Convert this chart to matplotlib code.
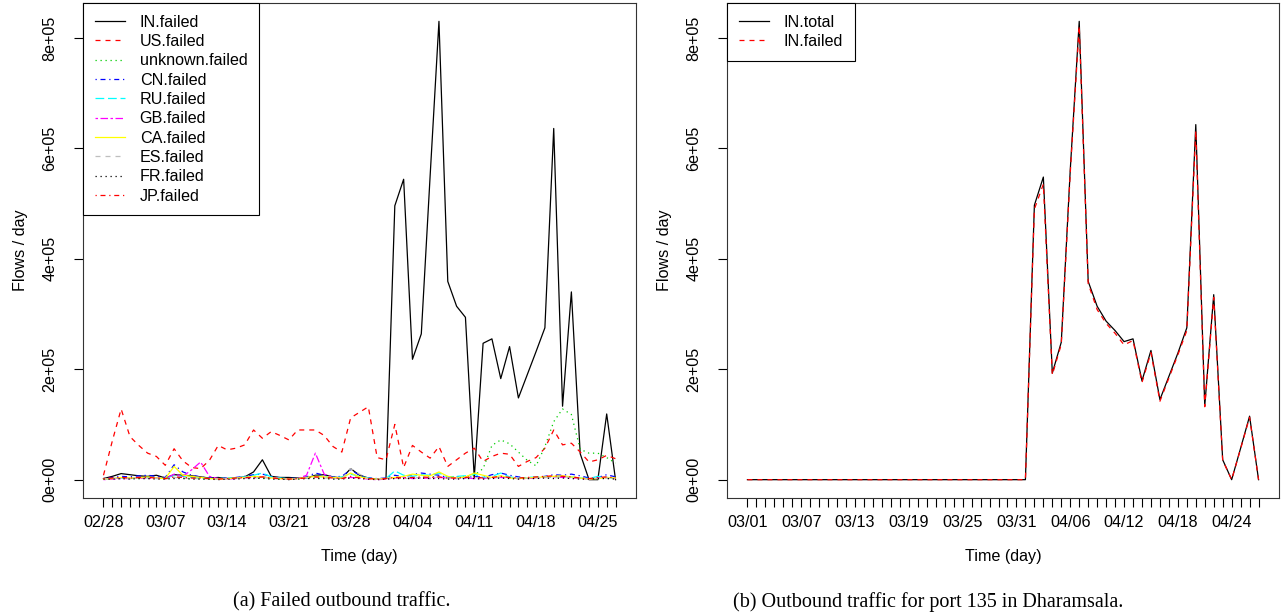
import numpy as np
import pandas as pd
import matplotlib
matplotlib.use('Agg')
import matplotlib.pyplot as plt

plt.rcParams['font.family'] = ['Liberation Sans', 'DejaVu Sans']

# ---- (a) failed outbound flows per day, 02/28 .. 04/27 (thousands) ----
days_a = list(pd.date_range('2011-02-28', '2011-04-27').strftime('%m/%d'))
ticklabels_a = ['02/28', '03/07', '03/14', '03/21', '03/28', '04/04', '04/11', '04/18', '04/25']

IN_failed = [2, 6, 11, 9, 7, 6, 8, 3, 9, 8,
             7, 5, 3, 4, 2, 3, 5, 14, 36, 6,
             4, 4, 3, 3, 8, 9, 5, 3, 20, 8,
             3, 1, 2, 496, 544, 218, 264, 550, 830, 359,
             314, 294, 4, 247, 255, 183, 241, 148, 190, 232,
             275, 636, 133, 340, 47, 0, 0, 119, 0]
US_failed = [8, 70, 128, 78, 62, 48, 42, 26, 56, 34,
             22, 20, 35, 62, 54, 57, 63, 90, 75, 87,
             80, 72, 90, 90, 90, 80, 60, 50, 112, 122,
             132, 40, 36, 100, 22, 62, 50, 39, 60, 24,
             36, 48, 57, 33, 42, 48, 46, 24, 33, 40,
             57, 90, 63, 66, 50, 32, 36, 44, 38]
unknown_failed = [1, 2, 2, 3, 2, 2, 3, 2, 4, 3,
                  2, 2, 1, 1, 2, 2, 3, 3, 2, 2,
                  1, 1, 2, 2, 3, 3, 2, 2, 4, 3,
                  2, 1, 2, 3, 4, 3, 4, 5, 6, 4,
                  5, 6, 8, 20, 62, 72, 65, 50, 35, 25,
                  60, 105, 128, 118, 55, 48, 48, 40, 30]
CN_failed = [2, 4, 6, 5, 7, 8, 6, 4, 27, 14,
             8, 5, 3, 2, 3, 4, 6, 9, 10, 6,
             3, 2, 3, 5, 12, 8, 5, 6, 18, 8,
             3, 2, 3, 8, 5, 9, 12, 10, 8, 4,
             5, 3, 6, 4, 9, 12, 8, 5, 3, 4,
             6, 9, 8, 10, 7, 3, 4, 9, 5]
RU_failed = [1, 2, 3, 2, 3, 4, 3, 2, 8, 6,
             4, 3, 2, 2, 3, 3, 5, 8, 12, 5,
             3, 2, 2, 3, 6, 5, 4, 5, 10, 6,
             3, 1, 2, 16, 8, 6, 9, 8, 12, 5,
             6, 7, 10, 4, 6, 12, 5, 3, 4, 5,
             4, 5, 6, 5, 3, 2, 6, 4, 2]
GB_failed = [0, 1, 2, 2, 3, 2, 3, 2, 10, 6,
             18, 32, 6, 2, 1, 2, 3, 4, 5, 3,
             2, 1, 2, 8, 48, 10, 4, 3, 4, 3,
             1, 0, 1, 3, 4, 2, 3, 2, 4, 3,
             2, 3, 2, 2, 3, 4, 3, 2, 2, 3,
             4, 5, 4, 3, 2, 1, 3, 4, 2]
CA_failed = [1, 2, 4, 3, 3, 5, 3, 2, 24, 8,
             6, 4, 2, 1, 2, 3, 4, 6, 5, 3,
             2, 1, 2, 4, 6, 5, 4, 3, 12, 5,
             2, 1, 2, 4, 6, 10, 8, 7, 14, 6,
             3, 5, 12, 8, 4, 7, 3, 2, 3, 4,
             5, 6, 7, 5, 3, 1, 2, 4, 3]
ES_failed = [1, 2, 3, 2, 3, 3, 2, 1, 4, 3,
             2, 2, 1, 1, 2, 2, 3, 3, 4, 2,
             1, 1, 2, 3, 4, 3, 2, 2, 20, 10,
             2, 1, 2, 3, 2, 3, 4, 3, 5, 2,
             2, 3, 4, 3, 2, 5, 4, 2, 3, 3,
             4, 3, 5, 4, 2, 1, 2, 3, 2]
FR_failed = [1, 1, 2, 1, 2, 2, 1, 1, 2, 2,
             1, 1, 1, 0, 1, 1, 2, 2, 3, 1,
             1, 0, 1, 2, 2, 2, 1, 1, 3, 2,
             1, 0, 1, 2, 2, 2, 3, 2, 2, 1,
             1, 2, 2, 1, 2, 3, 2, 1, 2, 2,
             3, 2, 3, 2, 1, 1, 2, 2, 1]
JP_failed = [2, 3, 4, 3, 4, 4, 3, 2, 5, 4,
             3, 3, 2, 1, 2, 3, 4, 4, 5, 3,
             2, 1, 2, 3, 5, 4, 3, 2, 6, 3,
             2, 1, 2, 4, 3, 4, 5, 4, 5, 3,
             3, 4, 5, 3, 4, 6, 4, 3, 4, 5,
             6, 7, 6, 5, 3, 2, 4, 5, 3]

names_a = ['IN.failed', 'US.failed', 'unknown.failed', 'CN.failed', 'RU.failed',
           'GB.failed', 'CA.failed', 'ES.failed', 'FR.failed', 'JP.failed']
values_a = [IN_failed, US_failed, unknown_failed, CN_failed, RU_failed,
            GB_failed, CA_failed, ES_failed, FR_failed, JP_failed]

# ---- (b) port 135 in Dharamsala, 03/01 .. 04/27 (thousands) ----
days_b = list(pd.date_range('2011-03-01', '2011-04-27').strftime('%m/%d'))
ticklabels_b = ['03/01', '03/07', '03/13', '03/19', '03/25', '03/31', '04/06', '04/12', '04/18', '04/24']

IN_total_b = [0] * 32 + [497, 548, 193, 249, 561, 830, 359, 314, 287, 270,
                         250, 255, 179, 234, 145, 187, 229, 275, 643, 134,
                         335, 36, 0, 57, 115, 0]
IN_failed_b = [0] * 32 + [490, 535, 190, 245, 555, 822, 355, 308, 283, 265,
                          244, 252, 176, 230, 142, 184, 226, 270, 632, 132,
                          330, 35, 0, 56, 113, 0]

# R default palette and line types
pal = ['black', 'red', '#00CD00', 'blue', 'cyan', 'magenta', '#FFFF00', '#BEBEBE']
lty = [None, (4, 4), (1, 3), (1, 3, 4, 3), (7, 3), (2, 2, 6, 2)]

LW = 0.9
FS = 11.6


def style_axes(ax, days, ticklabels, ymax):
    n = len(days)
    ax.set_xlim(-0.04 * (n - 1), (n - 1) * 1.04)
    ax.set_ylim(-0.04 * ymax, ymax * 1.04)
    ax.set_xticks(np.arange(n))
    ax.set_xticklabels([d if d in ticklabels else '' for d in days])
    yt = np.arange(0, 800001, 200000)
    ax.set_yticks(yt)
    ax.set_yticklabels(['%de+%02d' % (v // 100000, 5) if v else '0e+00' for v in yt],
                       rotation=90, va='center')
    ax.tick_params(direction='out', length=6.5, width=0.8, labelsize=FS, color='black')
    ax.tick_params(axis='x', pad=5.5)
    ax.tick_params(axis='y', pad=12)
    for s in ax.spines.values():
        s.set_linewidth(0.8)
        s.set_color('#333333')
    ax.set_xlabel('Time (day)', fontsize=FS, labelpad=14)
    ax.set_ylabel('Flows / day', fontsize=FS, labelpad=10.5)


def add_legend(ax):
    leg = ax.legend(loc='upper left', bbox_to_anchor=(0, 1), borderaxespad=0,
                    fancybox=False, edgecolor='black', framealpha=1, fontsize=FS,
                    handlelength=1.9, handletextpad=0.9, labelspacing=0.27,
                    borderpad=0.72)
    leg.get_frame().set_linewidth(0.8)


fig = plt.figure(figsize=(12.88, 6.14), dpi=100)
ax1 = fig.add_axes([83 / 1288, 116 / 614, 553 / 1288, 495 / 614])
ax2 = fig.add_axes([727 / 1288, 116 / 614, 552 / 1288, 495 / 614])

x_a = np.arange(len(days_a))
for i, (name, vals) in enumerate(zip(names_a, values_a)):
    line, = ax1.plot(x_a, np.array(vals) * 1000, color=pal[i % 8], lw=LW, label=name)
    d = lty[i % 6]
    if d is not None:
        line.set_dashes(d)
style_axes(ax1, days_a, ticklabels_a, 830000)
add_legend(ax1)

x_b = np.arange(len(days_b))
ax2.plot(x_b, np.array(IN_total_b) * 1000, color='black', lw=LW, label='IN.total')
l2, = ax2.plot(x_b, np.array(IN_failed_b) * 1000, color='red', lw=LW, label='IN.failed')
l2.set_dashes(lty[1])
style_axes(ax2, days_b, ticklabels_b, 830000)
add_legend(ax2)

fig.text(342 / 1288, 1 - 602 / 614, '(a) Failed outbound traffic.', ha='center', va='center',
         fontsize=14.5, family='Liberation Serif')
fig.text(928 / 1288, 1 - 602 / 614, '(b) Outbound traffic for port 135 in Dharamsala.',
         ha='center', va='center', fontsize=14.5, family='Liberation Serif')

fig.savefig('out.png', dpi=100)
